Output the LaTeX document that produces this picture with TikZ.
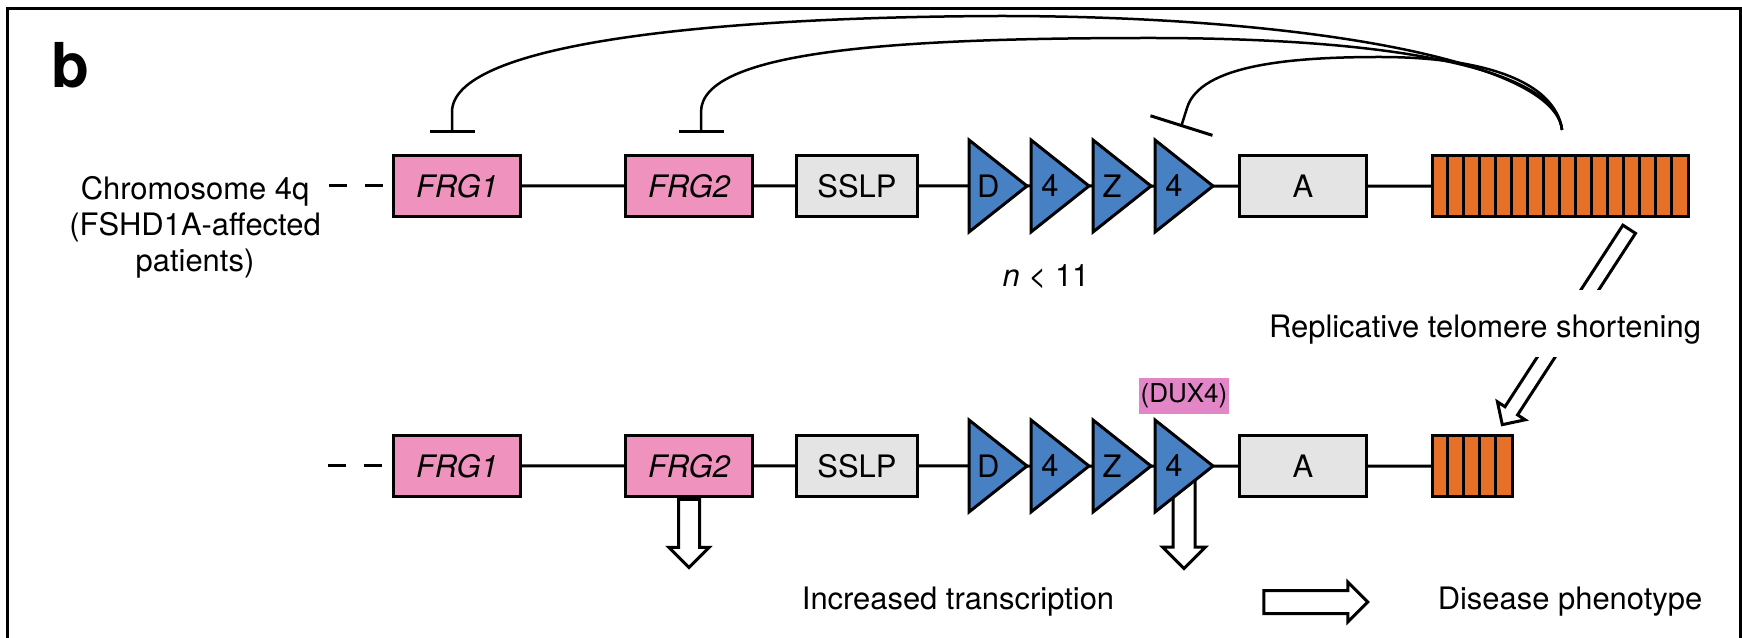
\documentclass[tikz,border=0pt]{standalone}
\usepackage{fontspec}
\setmainfont{TeX Gyre Heros}
\usetikzlibrary{positioning,shapes.geometric,shapes.arrows,arrows.meta,backgrounds}

\definecolor{frgpink}{RGB}{240,146,190}
\definecolor{boxgray}{RGB}{228,228,228}
\definecolor{d4blue}{RGB}{72,128,196}
\definecolor{teloorange}{RGB}{230,112,40}
\definecolor{duxpink}{RGB}{226,134,200}
\newcommand{\labelsize}{\fontsize{8.8}{10.2}\selectfont}

\begin{document}
\begin{tikzpicture}[x=0.1mm, y=-0.1mm, line width=0.3mm, font=\labelsize]
	\tikzstyle{gene} = [draw, fill=frgpink, rectangle, minimum height=6.1mm, minimum width=12.7mm, font=\labelsize\itshape]
	\tikzstyle{markerbox} = [draw, fill=boxgray, rectangle, minimum height=6.1mm, minimum width=12.1mm]
	\tikzstyle{repeatunit} = [draw, fill=d4blue, isosceles triangle, isosceles triangle stretches, minimum width=9.2mm, minimum height=5.8mm, inner sep=0, outer sep=0]
	\tikzstyle{telomere} = [draw, fill=teloorange, rectangle, minimum height=6.1mm, inner sep=0]
	\tikzstyle{hollow} = [draw, fill=white, line width=0.3mm, single arrow, single arrow head extend=0.95mm, inner xsep=0mm, inner ysep=0.9mm]
	\tikzstyle{inhibit} = [line width=0.25mm, -{Bar[width=4.5mm, line width=0.3mm]}]

	\useasboundingbox (0,0) rectangle (1742,638);
	\draw (7,640) -- (7,9) -- (1740,9) -- (1740,640);
	\node[anchor=base west, inner sep=0, font=\fontsize{17.6}{20}\selectfont\bfseries] (panel) at (50,88) {b};

	\node[align=center, anchor=north, inner sep=0] (chrom) at (195,175) {Chromosome 4q\\(FSHD1A-affected\\patients)};
	\coordinate (chr) at (329,186);
	\node[gene] (frg1) at (457,186) {FRG1};
	\node[gene] (frg2) [right=10.2mm of frg1] {FRG2};
	\node[markerbox] (sslp) [right=4.1mm of frg2] {SSLP};
	\node[repeatunit] (d1) [right=5mm of sslp] {D};
	\node[repeatunit] (d2) [right=0.4mm of d1] {4};
	\node[repeatunit] (d3) [right=0.4mm of d2] {Z};
	\node[repeatunit] (d4) [right=0.4mm of d3] {4};
	\node[markerbox, minimum width=12.7mm] (a) [right=2.5mm of d4] {A};
	\node[telomere, minimum width=25.6mm] (tel) [right=6.3mm of a] {};
	\foreach \k in {1,...,15}
		\draw ([xshift=\k*1.6mm]tel.north west) -- ([xshift=\k*1.6mm]tel.south west);

	\draw[dash pattern=on 1.8mm off 1.8mm] (chr) -- (frg1);
	\draw (frg1) -- (frg2) (frg2) -- (sslp) (sslp) -- (d1) (d1) -- (d2) (d2) -- (d3) (d3) -- (d4) (d4) -- (a) (a) -- (tel);

	\node[anchor=base] (count) at (1046,287) {\textit{n} < 11};

	\coordinate (telo) at (1562,130);
	\coordinate (stop1) at (452,133);
	\coordinate (stop2) at (701,133);
	\coordinate (stop3) at (1181,127);
	\draw[inhibit] (telo) .. controls (1555,60) and (1300,16) .. (1000,16) .. controls (700,17) and (452,45) .. (452,112) -- (stop1);
	\draw[inhibit] (telo) .. controls (1557,70) and (1400,38) .. (1150,38) .. controls (900,38) and (701,50) .. (701,112) -- (stop2);
	\draw[inhibit, -{Bar[width=6.5mm, line width=0.3mm]}] (telo) .. controls (1555,80) and (1480,57) .. (1380,57) .. controls (1290,57) and (1200,65) .. (1187,108) -- (stop3);

	\coordinate (shrink) at (1630,228);
	\node[hollow, minimum height=23.3mm, inner ysep=0.6mm, single arrow head extend=0.9mm, rotate=237, anchor=tail] (short) at (shrink) {};
	\node[anchor=base, fill=white, text height=4.8mm, text depth=1.9mm, inner ysep=0, inner xsep=1mm] (repl) at (1485,338) {Replicative telomere shortening};

	\coordinate (chrb) at (328,466);
	\node[gene] (frg1b) at (457,466) {FRG1};
	\node[gene] (frg2b) [right=10.2mm of frg1b] {FRG2};
	\node[markerbox] (sslpb) [right=4.1mm of frg2b] {SSLP};
	\node[repeatunit] (d1b) [right=5mm of sslpb] {D};
	\node[repeatunit] (d2b) [right=0.4mm of d1b] {4};
	\node[repeatunit] (d3b) [right=0.4mm of d2b] {Z};
	\node[repeatunit] (d4b) [right=0.4mm of d3b] {4};
	\node[markerbox, minimum width=12.7mm] (ab) [right=2.5mm of d4b] {A};
	\node[telomere, minimum width=8mm] (telb) [right=6.3mm of ab] {};
	\foreach \k in {1,...,4}
		\draw ([xshift=\k*1.6mm]telb.north west) -- ([xshift=\k*1.6mm]telb.south west);

	\draw[dash pattern=on 1.8mm off 1.8mm] (chrb) -- (frg1b);
	\draw (frg1b) -- (frg2b) (frg2b) -- (sslpb) (sslpb) -- (d1b) (d1b) -- (d2b) (d2b) -- (d3b) (d3b) -- (d4b) (d4b) -- (ab) (ab) -- (telb);

	\node[fill=duxpink, inner xsep=0.2mm, inner ysep=0.6mm, font=\fontsize{7.4}{8}\selectfont] (dux) at (1184,396) {(DUX4)};

	\node[hollow, minimum height=6.8mm, rotate=-90, anchor=tail] (up2) at (frg2b.south) {};
	\begin{scope}[on background layer]
		\node[hollow, minimum height=8.8mm, inner ysep=0.95mm, single arrow head extend=1.05mm, rotate=-90, anchor=tail] (up4) at ([yshift=1mm]d4b.right side) {};
	\end{scope}

	\node[anchor=base] (incr) at (958,610) {Increased transcription};
	\node[hollow, minimum height=10.4mm, inner ysep=1mm, single arrow head extend=0.85mm] (leads) at (1310,602) {};
	\node[anchor=base] (pheno) at (1570,610) {Disease phenotype};
\end{tikzpicture}
\end{document}
